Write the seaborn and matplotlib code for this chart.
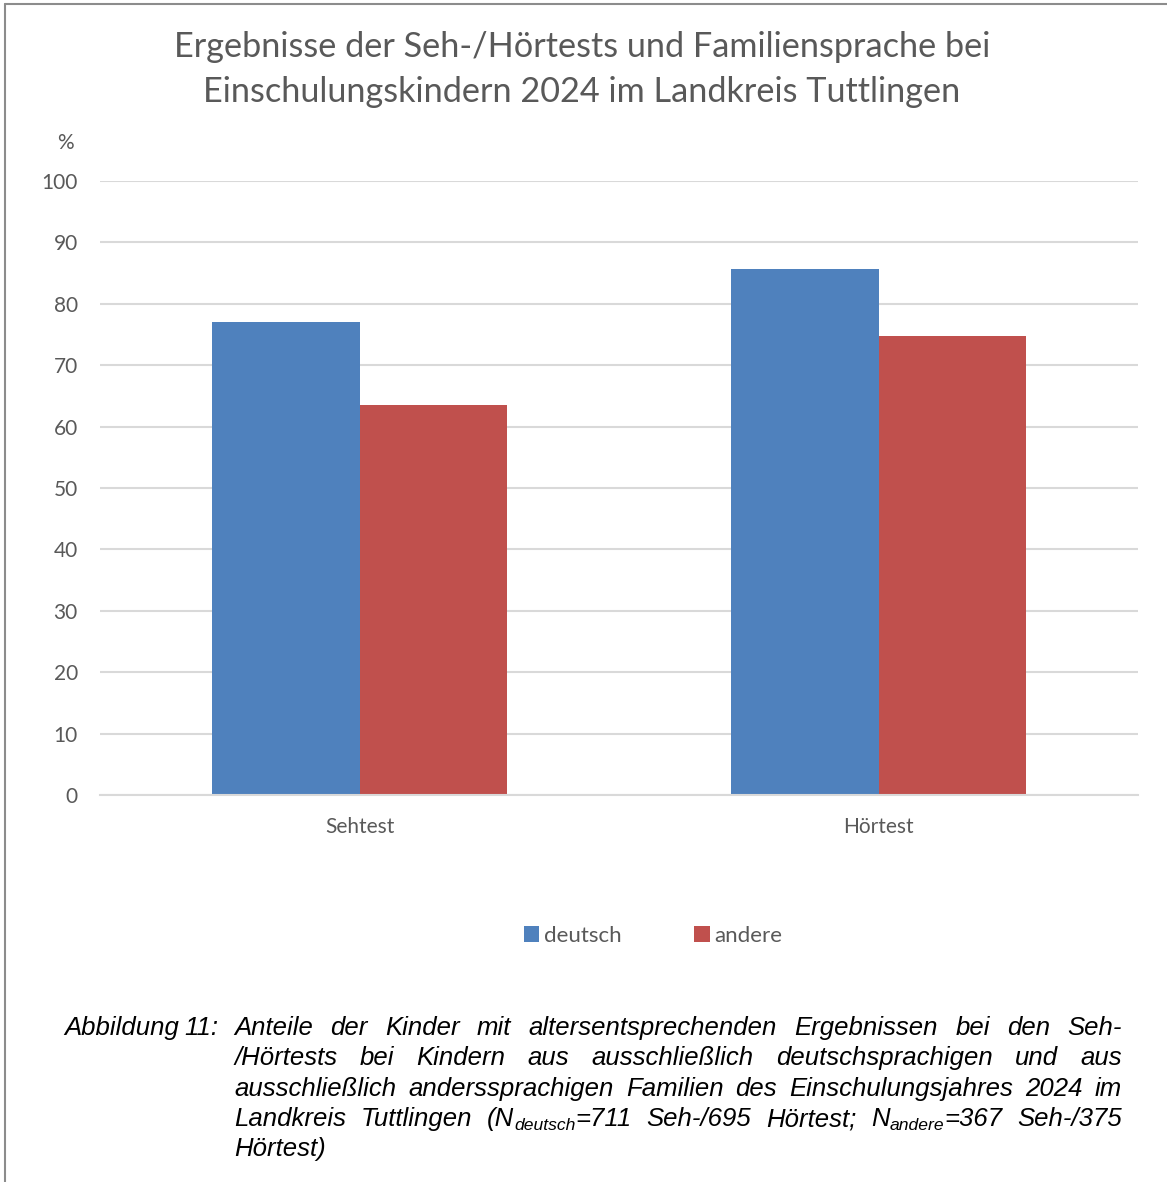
import matplotlib
matplotlib.use("Agg")
import matplotlib.pyplot as plt
import seaborn as sns
import pandas as pd

# data
tests = ["Sehtest", "Hörtest"]
deutsch = [77.0, 85.6]
andere = [63.5, 74.7]
groups = ["deutsch", "andere"]
colors = ["#4F81BD", "#C0504D"]
yticks = [0, 10, 20, 30, 40, 50, 60, 70, 80, 90, 100]

title_lines = ["Ergebnisse der Seh-/Hörtests und Familiensprache bei",
               "Einschulungskindern 2024 im Landkreis Tuttlingen"]
cap_label = "Abbildung 11:"
cap_lines = [
    "Anteile der Kinder mit altersentsprechenden Ergebnissen bei den Seh-",
    "/Hörtests bei Kindern aus ausschließlich deutschsprachigen und aus",
    "ausschließlich anderssprachigen Familien des Einschulungsjahres 2024 im",
    "Landkreis Tuttlingen (N_deutsch=711 Seh-/695 Hörtest; N_andere=367 Seh-/375",
    "Hörtest)",
]

df = pd.DataFrame({
    "Test": tests * 2,
    "Sprache": [groups[0]] * len(tests) + [groups[1]] * len(tests),
    "Wert": deutsch + andere,
})

sns.set_style("white")
plt.rcParams["font.family"] = ["Lato", "DejaVu Sans"]
grey = "#595959"

W, H = 1167, 1182
fig = plt.figure(figsize=(W / 100, H / 100), dpi=100)
ax = fig.add_axes([100 / W, 1 - 795 / H, 1038 / W, 614 / H])

sns.barplot(data=df, x="Test", y="Wert", hue="Sprache", palette=colors,
            width=0.57, ax=ax, saturation=1, edgecolor="none", legend=True)

ax.set_xlim(-0.5, 1.5)
ax.set_ylim(0, 100)
ax.set_yticks(yticks)
ax.set_xlabel("")
ax.set_ylabel("")
ax.yaxis.grid(True, color="#D9D9D9", linewidth=1.5)
ax.set_axisbelow(True)
for s in ["top", "right", "left"]:
    ax.spines[s].set_visible(False)
ax.spines["bottom"].set_color("#D9D9D9")
ax.spines["bottom"].set_linewidth(1.5)
ax.tick_params(axis="both", length=0, labelsize=15, labelcolor=grey)
ax.tick_params(axis="y", pad=16)
ax.tick_params(axis="x", pad=16)

handles, labels = ax.get_legend_handles_labels()
ax.legend(handles, labels, loc="center", bbox_to_anchor=(653 / W, 1 - 936 / H),
          bbox_transform=fig.transFigure, ncol=2, frameon=False,
          fontsize=16, labelcolor=grey, handlelength=0.7, handleheight=0.7,
          handletextpad=0.2, columnspacing=3.3)

fig.text(65 / W, 1 - 143 / H, "%", ha="center", va="center", fontsize=15, color=grey)
fig.text(582 / W, 1 - 47 / H, title_lines[0], ha="center", va="center", fontsize=24.7, color=grey)
fig.text(582 / W, 1 - 92 / H, title_lines[1], ha="center", va="center", fontsize=24.7, color=grey)

# frame of the chart object
fig.add_artist(plt.Line2D([5 / W, 1], [1 - 4 / H, 1 - 4 / H], color="#8C8C8C", lw=1.5))
fig.add_artist(plt.Line2D([5 / W, 5 / W], [0, 1 - 4 / H], color="#8C8C8C", lw=1.5))

# caption, justified with hanging indent
renderer = fig.canvas.get_renderer()
cap_font = dict(family=["Liberation Sans Narrow", "Liberation Sans"], style="italic",
                color="black")
fs = 18.5


def segments(word):
    # "(N_deutsch=711" -> [("(N", False), ("deutsch", True), ("=711", False)]
    if "_" not in word:
        return [(word, False)]
    head, rest = word.split("_", 1)
    sub = rest.split("=", 1)[0]
    tail = rest[len(sub):]
    return [(head, False), (sub, True), (tail, False)]


def put_word(word, x, y, draw=True):
    w = 0
    for txt, sub in segments(word):
        t = fig.text((x + w) / W, (y - (4 if sub else 0)) / H, txt,
                     fontsize=fs * 0.68 if sub else fs, va="baseline", **cap_font)
        w += t.get_window_extent(renderer).width
        if not draw:
            t.remove()
    return w


left, right = 234, 1122
line_y = [1035, 1065, 1096, 1126, 1156]
put_word("Abbildung", 64, H - line_y[0])
put_word("11:", 64 + put_word("Abbildung", 0, 0, draw=False) + 5, H - line_y[0])
for i, line in enumerate(cap_lines):
    words = line.split(" ")
    y = H - line_y[i]
    widths = [put_word(w, 0, 0, draw=False) for w in words]
    if i < len(cap_lines) - 1:
        gap = (right - left - sum(widths)) / (len(words) - 1)
    else:
        gap = 5
    x = left
    for w, wd in zip(words, widths):
        put_word(w, x, y)
        x += wd + gap

fig.savefig("out.png", dpi=100)
